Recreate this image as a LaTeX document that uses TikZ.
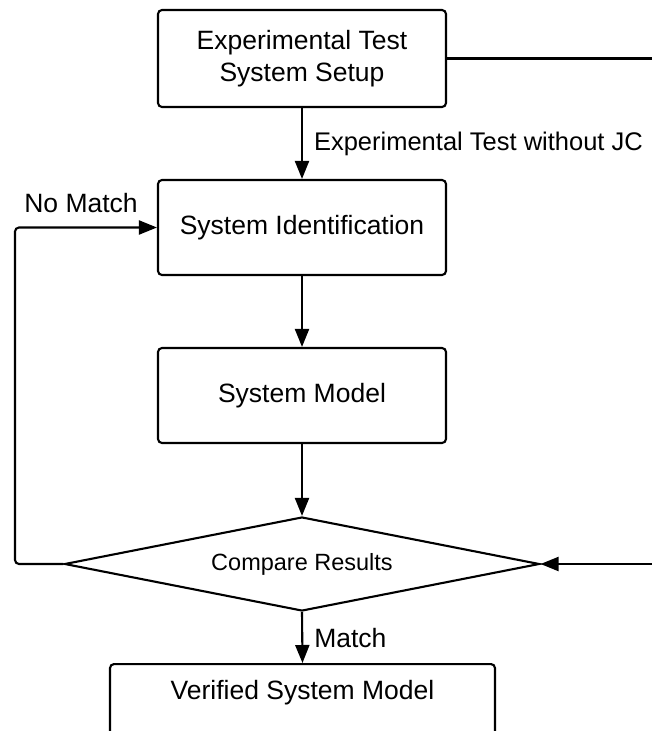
\documentclass[tikz,border=0pt]{standalone}
\usepackage{fontspec}
\setmainfont{Liberation Sans}
\usetikzlibrary{shapes.geometric,arrows.meta}
\tikzset{
  box/.style={draw, line width=2.1pt, rounded corners=4pt, minimum width=288pt, align=center, inner sep=0pt, font=\fontsize{26.5}{32}\selectfont},
  dia/.style={draw, line width=2.1pt, shape=diamond, aspect=5, minimum width=475pt, minimum height=94pt, inner sep=0pt, font=\fontsize{23.5}{27}\selectfont},
  lbl/.style={inner sep=0pt, font=\fontsize{26.5}{32}\selectfont},
  conn/.style={line width=2.1pt, -{Triangle[length=18pt,width=14pt]}},
  plain/.style={line width=2.1pt}
}
\begin{document}
\begin{tikzpicture}[x=1pt,y=-1pt]
\useasboundingbox (0,0) rectangle (652,731);
\clip (0,0) rectangle (652,731);
\node[box, minimum height=97pt] (setup) at (302,58.5) {Experimental Test\\System Setup};
\node[box, minimum height=95pt] (ident) at (302,227.5) {System Identification};
\node[box, minimum height=95pt] (model) at (302,395.5) {System Model};
\node[dia] (compare) at (302,564) {Compare Results};
\node[box, minimum width=385pt, minimum height=110pt, anchor=north] (verified) at (302.5,663) {};
\node[lbl] (verifiedtxt) at (302.5,693) {Verified System Model};
\coordinate (rightcorner) at (690,58.5);
\coordinate (leftcorner) at (15,400);
\draw[conn] (setup.south) -- node[lbl, anchor=west, xshift=11pt, font=\fontsize{25.5}{32}\selectfont] (lblwo) {Experimental Test without JC} (ident.north);
\draw[conn] (ident.south) -- (model.north);
\draw[conn] (model.south) -- (compare.north);
\draw[conn] (compare.south) -- node[lbl, anchor=west, xshift=11pt] (lblmatch) {Match} (verified.north);
\draw[conn, rounded corners=4pt] (compare.west) -| (leftcorner) |- (ident.west);
\node[lbl] (lblnomatch) at (81,203) {No Match};
\draw[conn] (setup.east) -- (rightcorner) |- (compare.east);
\end{tikzpicture}
\end{document}
